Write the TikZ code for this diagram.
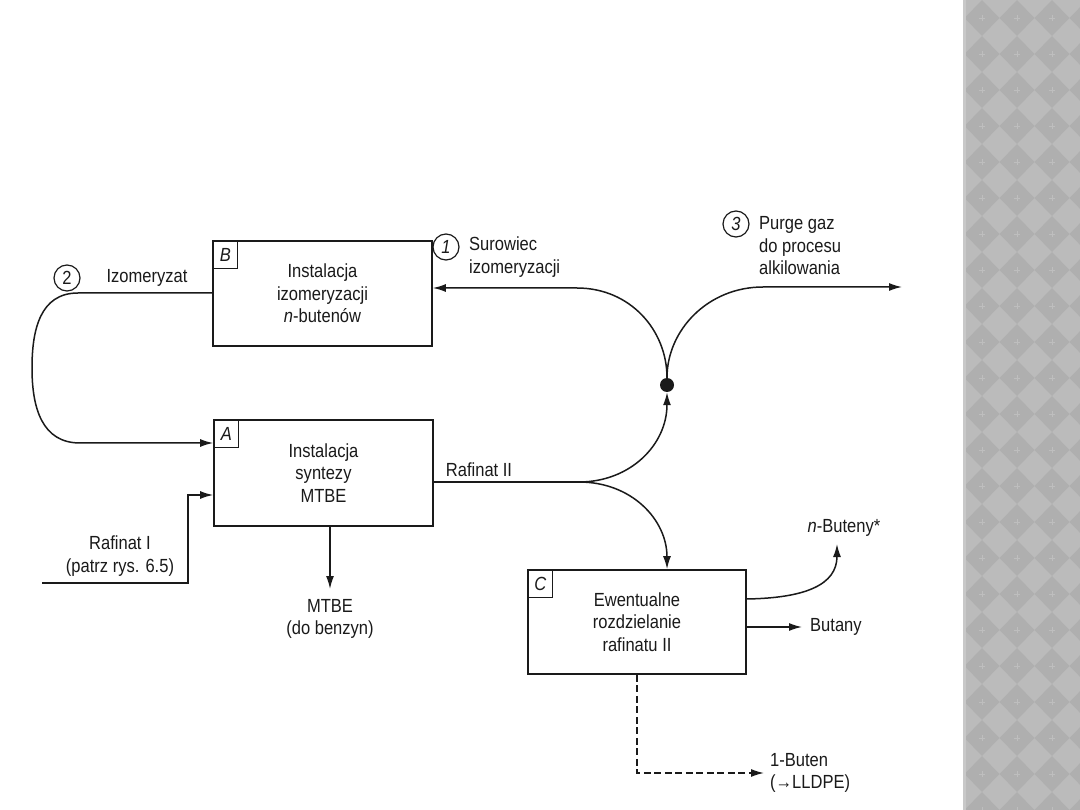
\documentclass[tikz,border=0pt]{standalone}
\usepackage{fontspec}
\setmainfont{Liberation Sans}[FakeStretch=0.87]
\usetikzlibrary{arrows.meta}
\definecolor{ink}{HTML}{1A1A1A}
\definecolor{stripbg}{HTML}{BBBBBB}
\definecolor{stripdia}{HTML}{AFAFAF}
\definecolor{stripmark}{HTML}{BEBEBE}
\definecolor{stripedge}{HTML}{C8C8C8}
\begin{document}
\begin{tikzpicture}[x=1pt,y=-1pt,
  every node/.style={font=\fontsize{19}{22.5}\selectfont, text=ink},
  unit/.style={draw=ink, line width=1.7pt, inner sep=0pt, align=center},
  tag/.style={draw=ink, line width=1.3pt, inner sep=0pt, minimum width=25pt, minimum height=28pt, font=\fontsize{19}{22}\selectfont\itshape, anchor=north west},
  num/.style={draw=ink, line width=1.2pt, circle, inner sep=0pt, minimum size=26pt},
  flow/.style={draw=ink, line width=1.5pt},
  tip/.style={-{Latex[length=13pt,width=8pt]}},
  lbl/.style={inner sep=0pt, align=center},
]
\useasboundingbox (0,0) rectangle (1080,810);
\fill[white] (0,0) rectangle (1080,810);
% decorative strip
\begin{scope}
\clip (963,0) rectangle (1080,810);
\fill[stripbg] (963,0) rectangle (1080,810);
\foreach \i in {0,...,3}{\foreach \j in {0,...,22}{
  \fill[stripdia] (982+35*\i,36*\j) -- (999.5+35*\i,18+36*\j) -- (982+35*\i,36+36*\j) -- (964.5+35*\i,18+36*\j) -- cycle;
  \draw[stripmark, line width=0.5pt] (979+35*\i,18+36*\j) -- (985+35*\i,18+36*\j) (982+35*\i,15+36*\j) -- (982+35*\i,21+36*\j);
}}
\fill[stripedge] (963,0) rectangle (966,810);
\end{scope}
% units
\node[unit, minimum width=219pt, minimum height=105pt] (B) at (322.5,293.5) {Instalacja\\izomeryzacji\\\textit{n}-butenów};
\node[unit, minimum width=219pt, minimum height=106pt] (A) at (323.5,473) {Instalacja\\syntezy\\MTBE};
\node[unit, minimum width=218pt, minimum height=104pt] (C) at (637,622) {Ewentualne\\rozdzielanie\\rafinatu II};
\node[tag] (tB) at (B.north west) {B};
\node[tag] (tA) at (A.north west) {A};
\node[tag] (tC) at (C.north west) {C};
% numbered circles
\node[num] (n1) at (446,247) {\itshape 1};
\node[num] (n2) at (67,278) {2};
\node[num] (n3) at (736,224) {\itshape 3};
% labels
\node[lbl, anchor=west, align=left] (surowiec) at (469,257) {Surowiec\\izomeryzacji};
\node[lbl, anchor=west, align=left] (purge) at (759,246) {Purge gaz\\do procesu\\alkilowania};
\node[lbl] (izo) at (147,278) {Izomeryzat};
\node[lbl] (raf2) at (479,470) {Rafinat II};
\node[lbl] (raf1) at (120,556) {Rafinat I\\(patrz rys. 6.5)};
\node[lbl] (mtbe) at (330,619) {MTBE\\(do benzyn)};
\node[lbl] (nbut) at (844,528) {\textit{n}-Buteny*};
\node[lbl, anchor=west] (butany) at (810,627) {Butany};
\node[lbl, anchor=west, align=left] (buten) at (770,773) {1-Buten\\(→LLDPE)};
% junction dot
\node[fill=ink, circle, inner sep=0pt, minimum size=14pt] (dot) at (667,385) {};
% free ends
\coordinate (r1start) at (42,583);
\coordinate (split) at (579,482);
\coordinate (mtbeTip) at (330,589);
\coordinate (purgeTip) at (902,287);
\coordinate (nbutTip) at (837,544);
\coordinate (butTip) at (802,627);
\coordinate (butenTip) at (764,773);
% connectors
\draw[flow, tip] (B.west |- 0,293) -- (78,293) .. controls (40,293) and (32,330) .. (32,368) .. controls (32,408) and (42,443) .. (80,443) -- (A.west |- 0,443);
\draw[flow, tip] (r1start) -- (188,583) -- (188,495) -- (A.west |- 0,495);
\draw[flow, tip] (330,0 |- A.south) -- (mtbeTip);
\draw[flow] (A.east |- 0,482) -- (split);
\draw[flow, tip] (split) .. controls (630,482) and (667,445) .. (dot.south);
\draw[flow, tip] (split) .. controls (632,482) and (667,520) .. (C.north -| 667,0);
\draw[flow, tip] (dot.north) .. controls (667,330) and (630,288) .. (577,288) -- (B.east |- 0,288);
\draw[flow, tip] (dot.north) .. controls (667,330) and (708,287) .. (763,287) -- (purgeTip);
\draw[flow, tip] (C.east |- 0,599) .. controls (805,598) and (837,585) .. (nbutTip);
\draw[flow, tip] (C.east |- 0,627) -- (butTip);
\draw[flow, tip, dash pattern=on 7pt off 3.5pt] (C.south) -- (C.south |- butenTip) -- (butenTip);
\end{tikzpicture}
\end{document}
